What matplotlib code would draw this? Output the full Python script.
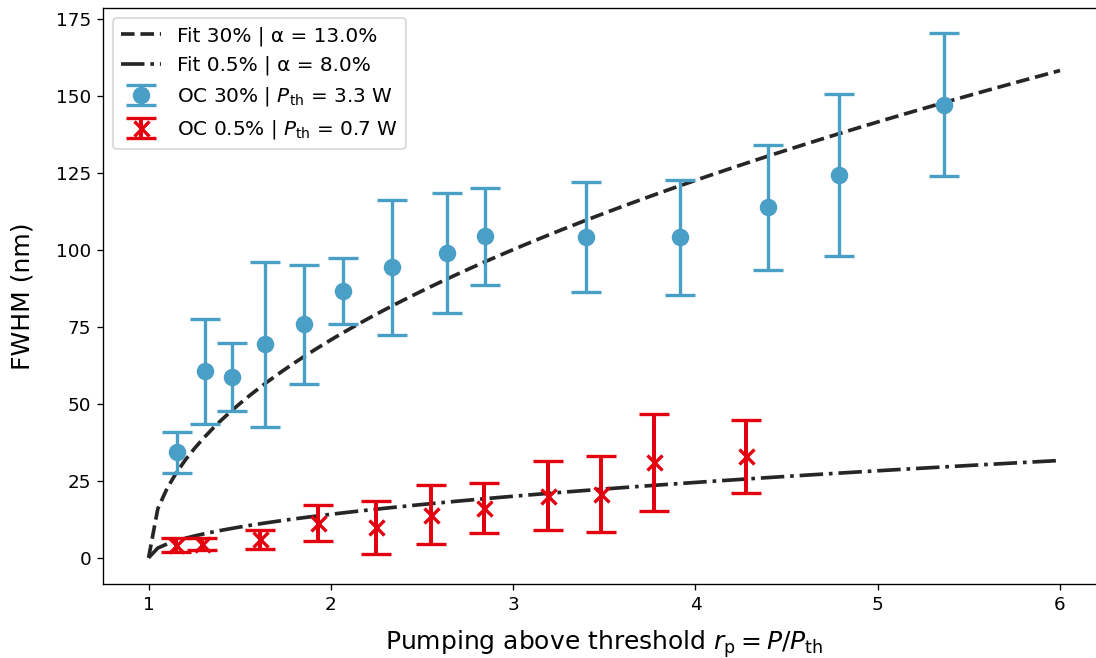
import numpy as np
import matplotlib
matplotlib.use("Agg")
import matplotlib.pyplot as plt

# measured FWHM vs pumping ratio, OC 30 %
RP_30 = [1.157, 1.307, 1.455, 1.641, 1.852, 2.065, 2.336, 2.637, 2.848,
         3.40, 3.913, 4.397, 4.79, 5.366]
FWHM_30 = [34.2, 60.5, 58.7, 69.3, 75.8, 86.6, 94.4, 99.1, 104.4,
           104.2, 104.0, 113.8, 124.3, 147.1]
ERR_30 = [6.7, 17.0, 11.1, 26.8, 19.3, 10.8, 21.9, 19.5, 15.8,
          17.9, 18.8, 20.2, 26.2, 23.2]

# OC 0.5 %
RP_05 = [1.148, 1.294, 1.61, 1.93, 2.25, 2.55, 2.84, 3.19, 3.48, 3.77, 4.277]
FWHM_05 = [4.2, 4.5, 6.0, 11.2, 9.9, 14.0, 16.2, 20.2, 20.7, 31.0, 32.9]
ERR_05 = [2.2, 1.9, 3.1, 5.9, 8.7, 9.5, 8.2, 11.1, 12.3, 15.7, 11.7]

# sqrt(r_p - 1) fit amplitudes (nm)
A_FIT_30 = 70.75
A_FIT_05 = 14.13

BLUE = "#4a9fc6"
RED = "#e3000f"
DARK = "#262626"

fig = plt.figure(figsize=(1096 / 120, 658 / 120), dpi=120)
ax = fig.add_axes([103 / 1096, 1 - 584 / 658, (1105.6 - 103) / 1096, (584 - 8) / 658])

rp = np.linspace(1, 6, 100)
ax.plot(rp, A_FIT_30 * np.sqrt(rp - 1), ls="--", color=DARK, lw=2.2,
        label="Fit 30% | α = 13.0%")
ax.plot(rp, A_FIT_05 * np.sqrt(rp - 1), ls="-.", color=DARK, lw=2.2,
        label="Fit 0.5% | α = 8.0%")
ax.errorbar(RP_30, FWHM_30, yerr=ERR_30, fmt="o", color=BLUE, ms=9.5,
            capsize=9, elinewidth=2, capthick=2,
            label=r"OC 30% | $P_{\mathrm{th}}$ = 3.3 W")
ax.errorbar(RP_05, FWHM_05, yerr=ERR_05, fmt="x", color=RED, ms=9, mew=2,
            capsize=9, elinewidth=2.4, capthick=2.4,
            label=r"OC 0.5% | $P_{\mathrm{th}}$ = 0.7 W")

ax.set_xlim(0.75, 6.25)
ax.set_ylim(-8.5, 178.5)
ax.set_xticks([1, 2, 3, 4, 5, 6])
ax.set_yticks(np.arange(0, 176, 25))
ax.tick_params(labelsize=11)
ax.set_xlabel(r"Pumping above threshold $r_\mathrm{p} = P/P_\mathrm{th}$", fontsize=15)
ax.set_ylabel("FWHM (nm)", fontsize=15)
ax.xaxis.set_label_coords(0.5, -0.077)
ax.yaxis.set_label_coords(-0.068, 0.5)
ax.legend(loc="upper left", fontsize=12)

fig.savefig("out.png", dpi=120)
